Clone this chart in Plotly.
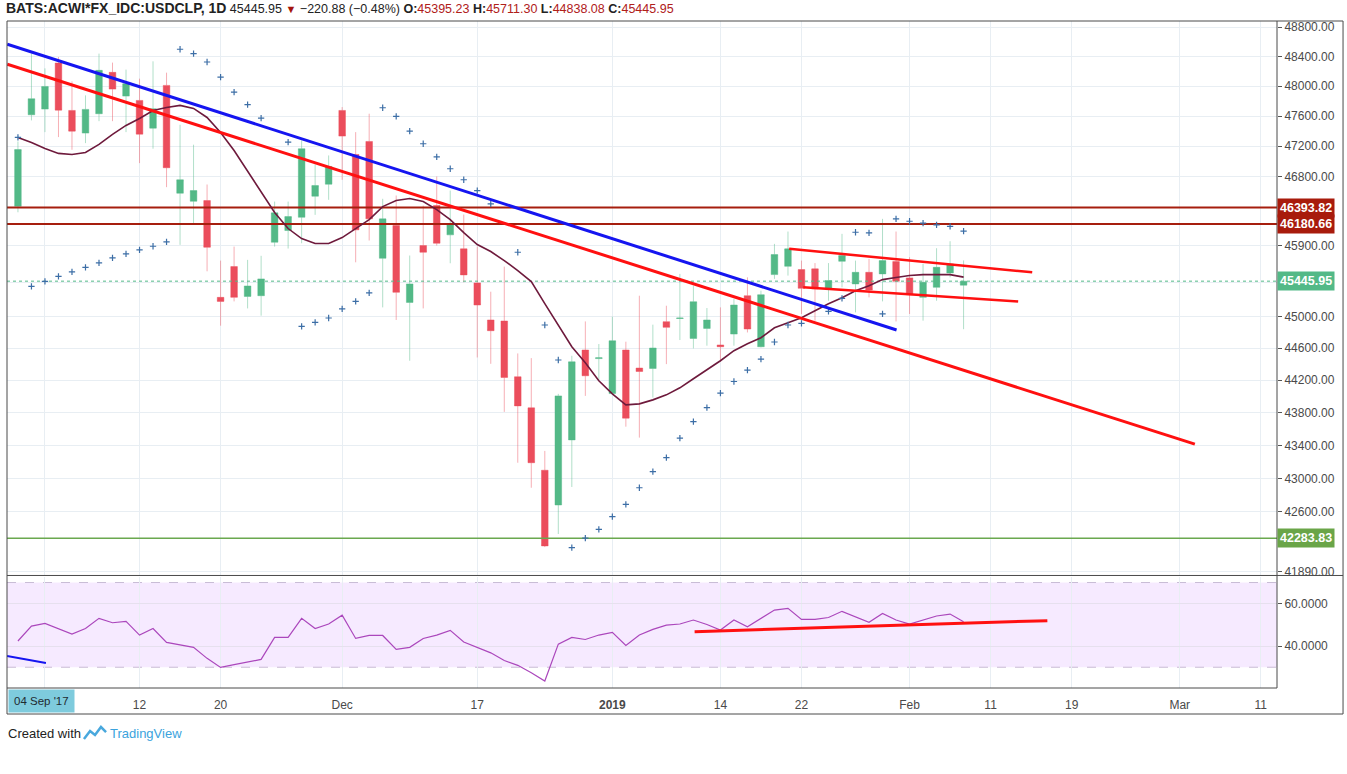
import math
import plotly.graph_objects as go

# daily bars (index 0 .. 70)
opens = [46410, 47617, 47693, 48313, 47675, 47373, 47631, 48187, 47867, 47809,
         47439, 48011, 46581, 46476, 46485, 45240, 45632, 45252, 45261, 45945,
         46096, 46268, 46542, 46699, 47675, 47090, 47262, 45739, 46161, 45176,
         45902, 46420, 46040, 45860, 45424, 44954, 44941, 44244, 43860, 43099,
         42681, 43467, 44577, 44470, 44036, 44577, 44352, 44347, 44933, 44973,
         44722, 44848, 44640, 44777, 45261, 44618, 45530, 45636, 45594, 45603,
         45360, 45700, 45411, 45559, 45539, 45696, 45488, 45240, 45368, 45551,
         45395.23]
highs = [47262, 48445, 48241, 48395, 48065, 47877, 48441, 48319, 48224, 48102,
         48336, 48183, 47484, 47219, 46695, 45709, 45889, 45718, 45770, 46472,
         46472, 47276, 46958, 47077, 47720, 47386, 47631, 46508, 46551, 45774,
         46420, 46800, 46616, 46303, 45889, 45312, 45632, 44534, 44476, 43333,
         44032, 44505, 44936, 44652, 44996, 44681, 45261, 44895, 45134, 45539,
         45389, 45105, 45113, 45219, 45495, 45325, 45924, 46083, 45709, 45677,
         45677, 46053, 45709, 45731, 46247, 46083, 45752, 45667, 45868, 45958,
         45711.30]
lows = [46333, 47542, 47386, 47320, 47152, 47240, 47532, 47532, 47386, 46976,
        47166, 46660, 45911, 46190, 45572, 44882, 45189, 45100, 45008, 45889,
        45864, 45932, 46299, 46495, 46757, 45687, 45967, 45113, 44954, 44443,
        45100, 45902, 45675, 45431, 44484, 44405, 43810, 43190, 42888, 42180,
        42335, 42897, 44007, 44194, 44032, 43629, 43495, 43986, 44401, 44702,
        44597, 44631, 44430, 44631, 44797, 44609, 45475, 45517, 45030, 44945,
        45197, 45368, 45050, 45240, 45189, 44936, 45030, 44945, 45197, 45495,
        44838.08]
closes = [47155, 47832, 47997, 47679, 47399, 47689, 48214, 47961, 48034, 47359,
          47698, 46915, 46757, 46616, 45880, 45189, 45240, 45385, 45475, 46325,
          46277, 47166, 46682, 46932, 47333, 46105, 46247, 46247, 45304, 45411,
          45816, 45932, 46170, 45526, 45143, 44819, 44235, 43884, 43190, 42194,
          44007, 44430, 44256, 44480, 44693, 43733, 44309, 44602, 44861, 44979,
          45185, 44954, 44618, 45143, 44840, 45274, 45787, 45860, 45355, 45347,
          45453, 45774, 45559, 45334, 45709, 45444, 45274, 45431, 45623, 45666.83,
          45445.95]
bars = list(range(len(closes)))

# moving average
ma_line = [47316, 47249, 47170, 47104, 47090, 47117, 47223, 47355, 47475, 47568,
           47675, 47715, 47742, 47702, 47581, 47382, 47143, 46866, 46603, 46329,
           46122, 45992, 45928, 45928, 46005, 46122, 46238, 46407, 46485, 46511,
           46472, 46368, 46238, 46070, 45915, 45825, 45709, 45581, 45440, 45160,
           44882, 44618, 44418, 44194, 44032, 43897, 43909, 43958, 44020, 44107,
           44219, 44330, 44443, 44568, 44656, 44731, 44856, 44920, 44983, 45071,
           45160, 45235, 45325, 45389, 45466, 45492, 45518, 45530, 45530, 45530,
           45498]

# parabolic SAR dots (None where not visible)
sar = [47316, 45380, 45444, 45508, 45564, 45623, 45680, 45744, 45796, 45847,
       45893, 45950, 48500, 48441, 48327, 48123, 47921, 47752, 47572, None,
       47253, 44873, 44924, 44979, 45093, 45189, 45296, 47711, 47595, 47399,
       47232, 47059, 46902, 46757, 46616, 46442, None, 45816, None, 44891,
       44452, 42174, 42285, 42391, 42541, 42689, 42888, 43082, 43251, 43488,
       43691, 43863, 44041, 44185, 44327, 44464, 44677, 44891, 44911, None,
       45062, 45227, 46074, 46066, 45030, 46247, 46216, 46191, 46170, 46149,
       46088]

rsi = [42.4, 49.4, 50.7, 48.2, 45.7, 48.3, 53.1, 51.0, 51.7, 45.2,
       48.3, 41.7, 40.5, 39.4, 34.2, 29.9, 31.2, 32.4, 33.7, 44.1,
       44.1, 53.1, 48.3, 50.4, 54.6, 43.6, 45.0, 45.0, 38.4, 39.4,
       43.6, 45.2, 47.4, 41.9, 39.2, 36.8, 33.2, 30.9, 27.4, 23.5,
       40.9, 44.1, 43.1, 45.2, 46.5, 40.3, 45.2, 47.9, 49.9, 50.4,
       52.3, 50.2, 47.6, 52.3, 49.1, 53.1, 57.0, 57.8, 52.6, 52.6,
       53.5, 56.4, 53.9, 51.2, 55.4, 52.3, 50.4, 52.3, 54.2, 55.1,
       51.5]

# drawn trend lines (bar index, value)
blue_x, blue_y = [-0.79, 65.04], [48568, 44828]
red_long_x, red_long_y = [-0.79, 87.12], [48296, 43415]
chan_top_x, chan_top_y = [57.09, 75.08], [45860, 45559]
chan_bot_x, chan_bot_y = [58.13, 74.04], [45368, 45189]
rsi_trend_x, rsi_trend_y = [50.09, 76.2], [46.8, 52.0]
rsi_blue_x, rsi_blue_y = [-0.81, 2.07], [35.3, 32.0]

levels_red = [46393.82, 46180.66]
level_green = 42283.83
last_price = 45445.95

x_tick_pos = [2, 9, 15, 24, 34, 44, 52, 58, 66, 72, 78, 86, 92]
x_tick_text = ["", "12", "20", "Dec", "17", "<b>2019</b>", "14", "22", "Feb",
               "11", "19", "Mar", "11"]
price_ticks = [48800, 48400, 48000, 47600, 47200, 46800, 45900, 45425, 45000,
               44600, 44200, 43800, 43400, 43000, 42600, 41890]
price_tick_text = ["%.2f" % v if v != 45425 else "" for v in price_ticks]

X0, X1 = -0.81, 93.2
GREEN = "#53B987"
RED = "#EB4D5C"
GRID = "#E8EEF3"
FONT = "Liberation Sans, Arial, sans-serif"

fig = go.Figure()

# RSI band
fig.add_shape(type="rect", xref="x2", yref="y2", x0=X0, x1=X1, y0=30, y1=70,
              fillcolor="rgba(153,21,255,0.09)", line_width=0, layer="below")
for lv in (30, 70):
    fig.add_shape(type="line", xref="x2", yref="y2", x0=X0, x1=X1, y0=lv, y1=lv,
                  line=dict(color="#C9BCD6", width=1, dash="dash"), layer="below")

# price levels
for lv in levels_red:
    fig.add_trace(go.Scatter(x=[X0, X1], y=[lv, lv], mode="lines",
                             line=dict(color="#A61E0E", width=2), hoverinfo="skip"))
fig.add_trace(go.Scatter(x=[X0, X1], y=[level_green, level_green], mode="lines",
                         line=dict(color="#6AA84F", width=1.5), hoverinfo="skip"))
fig.add_trace(go.Scatter(x=[X0, X1], y=[last_price, last_price], mode="lines",
                         line=dict(color=GREEN, width=1, dash="dot"), hoverinfo="skip"))

fig.add_trace(go.Candlestick(
    x=bars, open=opens, high=highs, low=lows, close=closes,
    increasing=dict(fillcolor=GREEN, line=dict(color="rgba(83,185,135,0.45)", width=1)),
    decreasing=dict(fillcolor=RED, line=dict(color="rgba(235,77,92,0.45)", width=1)),
    whiskerwidth=0))

fig.add_trace(go.Scatter(x=bars, y=ma_line, mode="lines",
                         line=dict(color="#6E1A3C", width=1.6)))
fig.add_trace(go.Scatter(x=bars, y=sar, mode="markers",
                         marker=dict(symbol="cross-thin", size=4.5,
                                     line=dict(color="#3C6EA6", width=1.2))))

fig.add_trace(go.Scatter(x=blue_x, y=blue_y, mode="lines",
                         line=dict(color="#1515F0", width=3)))
fig.add_trace(go.Scatter(x=red_long_x, y=red_long_y, mode="lines",
                         line=dict(color="#FF1010", width=3)))
fig.add_trace(go.Scatter(x=chan_top_x, y=chan_top_y, mode="lines",
                         line=dict(color="#FF1010", width=2.5)))
fig.add_trace(go.Scatter(x=chan_bot_x, y=chan_bot_y, mode="lines",
                         line=dict(color="#FF1010", width=2.5)))

# RSI pane
fig.add_trace(go.Scatter(x=bars, y=rsi, mode="lines", xaxis="x2", yaxis="y2",
                         line=dict(color="#AB47BC", width=1.2)))
fig.add_trace(go.Scatter(x=rsi_trend_x, y=rsi_trend_y, mode="lines", xaxis="x2", yaxis="y2",
                         line=dict(color="#FF1010", width=3)))
fig.add_trace(go.Scatter(x=rsi_blue_x, y=rsi_blue_y, mode="lines", xaxis="x2", yaxis="y2",
                         line=dict(color="#1515F0", width=2)))

# right-hand price labels
def price_tag(v, bg):
    fig.add_annotation(xref="paper", yref="y", x=1.0, y=math.log10(v), xanchor="left",
                       yanchor="middle", text="<b>%.2f</b>" % v, showarrow=False,
                       bgcolor=bg, borderpad=2, font=dict(color="white", size=12.5, family=FONT))

price_tag(levels_red[0], "#A81B0C")
price_tag(levels_red[1], "#A81B0C")
price_tag(last_price, GREEN)
price_tag(level_green, "#6AA548")

title = ("<span style='font-size:14px'><b>BATS:ACWI*FX_IDC:USDCLP, 1D</b></span> 45445.95 "
         "<span style='color:#A4140C;font-size:11px'>▼</span>"
         " −220.88 (−0.48%) <b>O:</b><span style='color:#B0201A'>45395.23</span>"
         " <b>H:</b><span style='color:#B0201A'>45711.30</span>"
         " <b>L:</b><span style='color:#B0201A'>44838.08</span>"
         " <b>C:</b><span style='color:#B0201A'>45445.95</span>")
fig.add_annotation(xref="paper", yref="paper", x=-0.0025, y=1.0195, xanchor="left",
                   yanchor="middle", text=title, showarrow=False,
                   font=dict(size=12.5, color="#222", family=FONT))

fig.add_annotation(xref="paper", yref="paper", x=0.0008, y=-0.0195, xanchor="left",
                   yanchor="middle", text="04 Sep '17", showarrow=False,
                   bgcolor="#7ECBDD", borderpad=5, font=dict(size=11.5, color="#1E2A30", family=FONT))

fig.add_annotation(xref="paper", yref="paper", x=-0.001, y=-0.0675, xanchor="left",
                   yanchor="middle", text="Created with", showarrow=False,
                   font=dict(size=13, color="#222", family=FONT))
fig.add_annotation(xref="paper", yref="paper", x=0.0795, y=-0.0675, xanchor="left",
                   yanchor="middle", text="TradingView", showarrow=False,
                   font=dict(size=13, color="#3BA3DD", family=FONT))

def px(xp, yp):
    return (xp - 7) / 1270, (688 - yp) / 667

pts = [px(84, 739), px(90, 731), px(95, 735), px(101, 727), px(106, 732)]
path = "M " + " L ".join("%.4f,%.4f" % p for p in pts)
fig.add_shape(type="path", xref="paper", yref="paper", path=path,
              line=dict(color="#49A8DD", width=2.5))

# frame lines
fig.add_shape(type="rect", xref="paper", yref="paper", x0=0, x1=1.052, y0=-0.039, y1=1.0,
              line=dict(color="#4A4A4A", width=1))
fig.add_shape(type="line", xref="paper", yref="paper", x0=0, x1=1.052, y0=0.1687, y1=0.1687,
              line=dict(color="#4A4A4A", width=1))
fig.add_shape(type="line", xref="paper", yref="paper", x0=0, x1=1.0, y0=0, y1=0,
              line=dict(color="#4A4A4A", width=1))
fig.add_shape(type="line", xref="paper", yref="paper", x0=1.0, x1=1.0, y0=0, y1=1,
              line=dict(color="#4A4A4A", width=1))

fig.update_layout(
    width=1347, height=774,
    margin=dict(l=7, r=70, t=21, b=86),
    paper_bgcolor="white", plot_bgcolor="white",
    showlegend=False,
    font=dict(family=FONT, size=12, color="#4A4A4A"),
    xaxis=dict(domain=[0, 1], anchor="y", range=[X0, X1], tickvals=x_tick_pos,
               showticklabels=False, showgrid=True, gridcolor=GRID, zeroline=False,
               rangeslider=dict(visible=False), fixedrange=True),
    yaxis=dict(domain=[0.1694, 1], anchor="x", type="log", side="right",
               range=[math.log10(41851), math.log10(48886)],
               tickvals=price_ticks, ticktext=price_tick_text,
               ticks="outside", ticklen=4, tickcolor="#555",
               showgrid=True, gridcolor=GRID, zeroline=False,
               tickfont=dict(size=12, color="#4A4A4A")),
    xaxis2=dict(domain=[0, 1], anchor="y2", range=[X0, X1], matches="x",
                tickvals=x_tick_pos, ticktext=x_tick_text, showgrid=True,
                gridcolor=GRID, zeroline=False, ticks="", ticklabelstandoff=8,
                tickfont=dict(size=12, color="#4A4A4A")),
    yaxis2=dict(domain=[0, 0.1664], anchor="x2", side="right", range=[20.2, 72.6],
                tickvals=[60, 40], ticktext=["60.0000", "40.0000"],
                ticks="outside", ticklen=4, tickcolor="#555",
                showgrid=True, gridcolor="#E6E0EE", zeroline=False),
)

fig.write_html("out.html", config={"displayModeBar": False},
               post_script="document.body.style.margin='0';")
